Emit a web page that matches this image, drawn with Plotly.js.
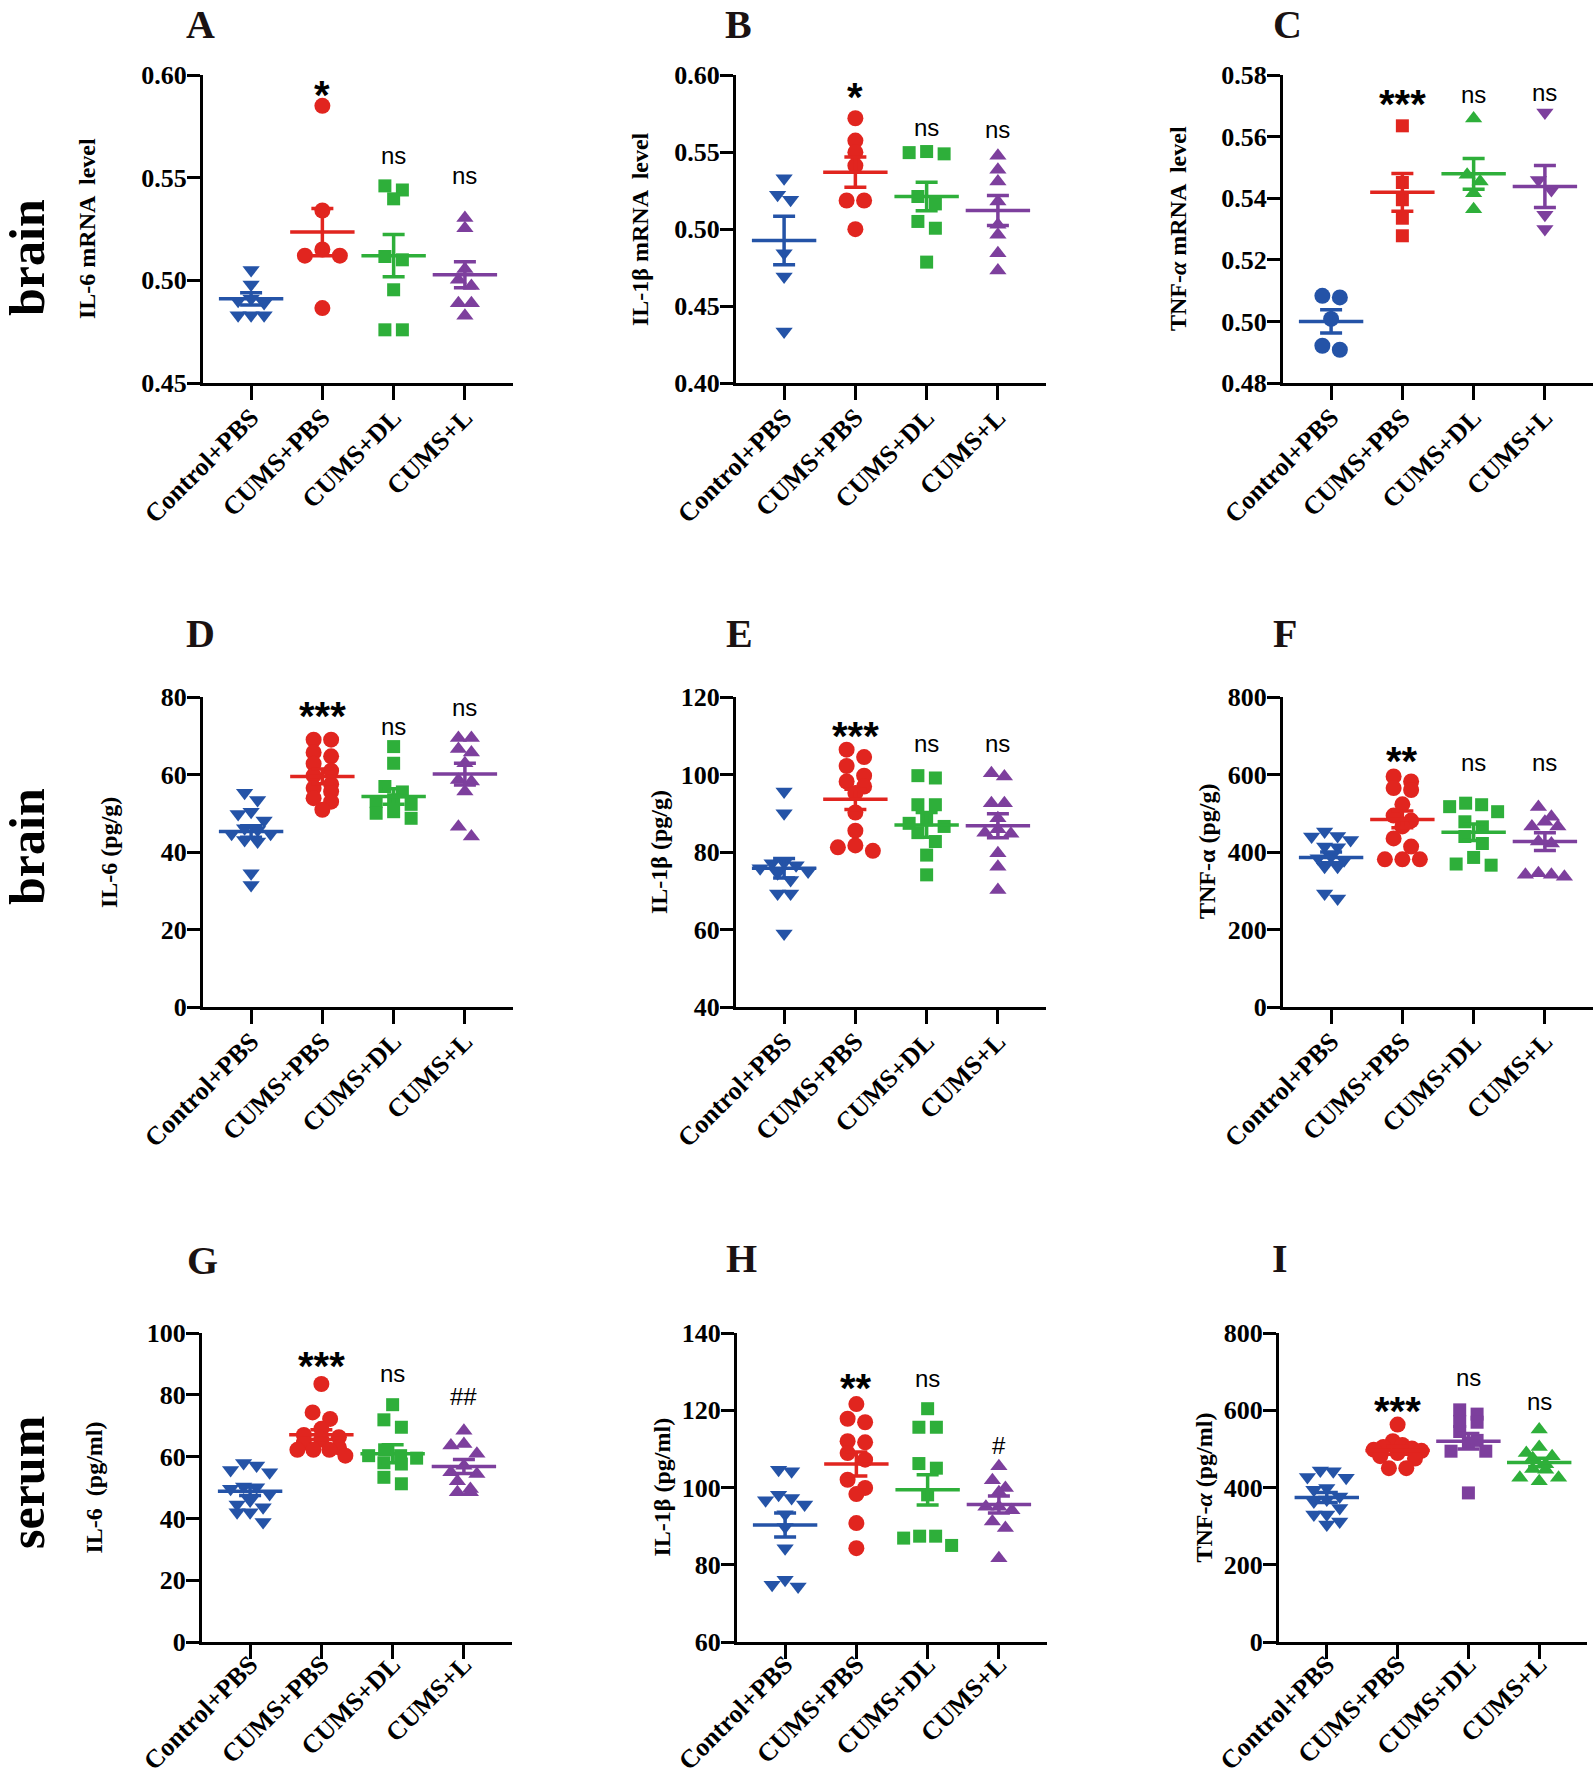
<!DOCTYPE html>
<html><head><meta charset="utf-8">
<script src="https://cdn.plot.ly/plotly-3.0.1.min.js"></script>
<style>body{margin:0;background:#fff}#chart{width:1594px;height:1780px}</style>
</head><body><div id="chart"></div>
<script>
const categories = ["Control+PBS", "CUMS+PBS", "CUMS+DL", "CUMS+L"];

// Panel A: IL-6 mRNA (brain)
const A_ctrl = [0.505, 0.498, 0.491, 0.490, 0.489, 0.483, 0.483, 0.483];
const A_cums = [0.585, 0.534, 0.515, 0.512, 0.512, 0.4865];
const A_dl   = [0.546, 0.544, 0.5397, 0.5116, 0.510, 0.4954, 0.4759, 0.4759];
const A_l    = [0.5303, 0.5254, 0.5055, 0.5003, 0.4973, 0.4889, 0.4889, 0.4828];
const A_mean = [0.491, 0.5235, 0.512, 0.5027];
const A_sem  = [0.003, 0.0115, 0.0103, 0.0063];
const A_sig  = ["", "*", "ns", "ns"];

// Panel B: IL-1β mRNA (brain)
const B_ctrl = [0.533, 0.5222, 0.519, 0.4843, 0.4692, 0.4335];
const B_cums = [0.5719, 0.5574, 0.5498, 0.5412, 0.5185, 0.5185, 0.4999];
const B_dl   = [0.5503, 0.5496, 0.5488, 0.5211, 0.5163, 0.5049, 0.5005, 0.4785];
const B_l    = [0.5475, 0.5384, 0.5308, 0.5178, 0.5027, 0.4962, 0.4843, 0.4731];
const B_mean = [0.4925, 0.5369, 0.5211, 0.512];
const B_sem  = [0.0157, 0.0098, 0.0092, 0.0097];
const B_sig  = ["", "*", "ns", "ns"];

// Panel C: TNF-α mRNA (brain)
const C_ctrl = [0.5083, 0.5078, 0.5008, 0.4921, 0.4908];
const C_cums = [0.5635, 0.5451, 0.5395, 0.5335, 0.5278];
const C_dl   = [0.5659, 0.5476, 0.5454, 0.5416, 0.5364];
const C_l    = [0.5678, 0.5459, 0.5427, 0.5346, 0.530];
const C_mean = [0.500, 0.5419, 0.5479, 0.5438];
const C_sem  = [0.0038, 0.0061, 0.005, 0.0068];
const C_sig  = ["", "***", "ns", "ns"];

// Panel D: IL-6 pg/g (brain)
const D_ctrl = [55.3, 53.4, 50.4, 49.8, 48.1, 46.1, 45.7, 44.7, 44.7, 43.1, 42.7, 34.5, 31.5];
const D_cums = [69.0, 69.0, 65.7, 64.7, 62.8, 61.0, 59.7, 57.5, 56.5, 55.6, 53.9, 53.0, 50.9];
const D_dl   = [67.2, 62.9, 56.9, 55.5, 53.5, 53.0, 52.3, 50.4, 50.0, 48.7];
const D_l    = [69.4, 69.4, 66.6, 65.7, 62.9, 58.6, 58.2, 55.6, 46.5, 44.0];
const D_mean = [45.3, 59.5, 54.3, 60.1];
const D_sem  = [1.5, 1.9, 2.0, 2.8];
const D_sig  = ["", "***", "ns", "ns"];

// Panel E: IL-1β pg/g (brain)
const E_ctrl = [95.6, 90.0, 77.2, 77.1, 76.6, 75.8, 75.0, 74.5, 72.8, 69.3, 69.3, 59.0];
const E_cums = [106.4, 104.5, 102.2, 99.7, 98.2, 96.9, 95.2, 90.2, 85.5, 81.7, 81.2, 80.3];
const E_dl   = [99.7, 99.1, 92.2, 92.2, 88.3, 87.4, 86.6, 85.0, 82.7, 79.2, 74.1];
const E_l    = [100.3, 99.5, 92.6, 92.6, 88.7, 85.9, 85.0, 84.7, 79.7, 76.2, 70.2];
const E_mean = [75.8, 93.6, 87.0, 86.8];
const E_sem  = [2.5, 2.6, 3.2, 3.1];
const E_sig  = ["", "***", "ns", "ns"];

// Panel F: TNF-α pg/g (brain)
const F_ctrl = [453, 441, 440, 431, 414, 412, 388, 384, 379, 362, 362, 293, 280];
const F_cums = [595, 582, 565, 560, 523, 494, 481, 466, 435, 414, 381, 381, 381];
const F_dl   = [526, 522, 517, 504, 478, 465, 440, 422, 386, 369, 366];
const F_l    = [516, 491, 478, 466, 466, 427, 422, 345, 341, 341, 336];
const F_mean = [386, 484, 451, 427];
const F_sem  = [14, 21.5, 21.5, 23];
const F_sig  = ["", "**", "ns", "ns"];

// Panel G: IL-6 pg/ml (serum)
const G_ctrl = [57.9, 57.1, 55.7, 54.9, 50.3, 50.1, 49.6, 47.9, 45.8, 44.5, 43.6, 42.0, 42.0, 38.8];
const G_cums = [83.5, 74.3, 72.2, 69.0, 67.0, 66.3, 65.5, 64.5, 63.0, 62.2, 62.2, 62.2, 60.3];
const G_dl   = [76.8, 71.9, 69.5, 62.2, 60.3, 60.3, 59.5, 58.0, 57.6, 53.3, 51.2];
const G_l    = [68.4, 64.1, 63.6, 60.9, 57.0, 54.9, 54.4, 52.0, 49.5, 48.5, 48.5];
const G_mean = [48.8, 67.1, 60.9, 56.8];
const G_sem  = [1.35, 1.6, 2.9, 2.3];
const G_sig  = ["", "***", "ns", "##"];

// Panel H: IL-1β pg/ml (serum)
const H_ctrl = [104.6, 104.2, 98.1, 97.3, 96.7, 95.6, 93.1, 89.8, 84.3, 76.1, 74.8, 74.4];
const H_cums = [121.6, 117.8, 116.9, 112.0, 111.7, 108.9, 107.2, 102.0, 99.9, 98.3, 90.8, 84.3];
const H_dl   = [120.4, 115.6, 115.6, 106.2, 105.0, 98.1, 87.4, 87.4, 86.9, 85.0];
const H_l    = [105.5, 101.9, 99.9, 98.8, 95.0, 95.0, 94.1, 91.2, 89.5, 81.7];
const H_mean = [90.3, 106.1, 99.4, 95.6];
const H_sem  = [3.1, 3.1, 3.9, 2.2];
const H_sig  = ["", "**", "ns", "#"];

// Panel I: TNF-α pg/ml (serum)
const I_ctrl = [444, 442, 427, 425, 399, 394, 377, 369, 364, 347, 330, 330, 312, 304];
const I_cums = [563, 520, 510, 505, 501, 498, 495, 489, 481, 475, 450, 450];
const I_dl   = [601, 590, 571, 569, 545, 522, 515, 494, 494, 386];
const I_l    = [550, 505, 489, 481, 476, 460, 448, 446, 425, 425, 416];
const I_mean = [374, 496, 520, 465];
const I_sem  = [13, 10, 20, 11];
const I_sig  = ["", "***", "ns", "ns"];

// ---------- styling / layout ----------
const W = 1594, HT = 1780;
const BLUE = '#2453A7', RED = '#E1251F', GREEN = '#2EAF3A', PURPLE = '#7D3F9D';
const SERIF = 'Liberation Serif, Times New Roman, serif';
const SANS = 'Liberation Sans, Arial, sans-serif';
const SIZE = {'triangle-down': 15, 'triangle-up': 15, 'circle': 16, 'square': 13};
const SYM1 = ['triangle-down', 'circle', 'square', 'triangle-up'];
const COL1 = [BLUE, RED, GREEN, PURPLE];
const CAT_PX = 71.3;

const panels = [
  {L:'A', g:[A_ctrl,A_cums,A_dl,A_l], m:A_mean, s:A_sem, sig:A_sig, sigY:[null,0.594,0.561,0.5513],
   box:{l:203,t:75,w:310,h:308}, range:[0.45,0.60], dtick:0.05, fmt:'.2f', sym:SYM1, col:COL1,
   title:'IL-6 mRNA  level', tx:87, letter:[201,17], xstand:-8},
  {L:'B', g:[B_ctrl,B_cums,B_dl,B_l], m:B_mean, s:B_sem, sig:B_sig, sigY:[null,0.591,0.5656,0.5643],
   box:{l:736,t:75,w:310,h:308}, range:[0.40,0.60], dtick:0.05, fmt:'.2f', sym:SYM1, col:COL1,
   title:'IL-1β mRNA  level', tx:640, letter:[738,17], xstand:-8},
  {L:'C', g:[C_ctrl,C_cums,C_dl,C_l], m:C_mean, s:C_sem, sig:C_sig, sigY:[null,0.5732,0.5738,0.5742],
   box:{l:1283,t:75,w:310,h:308}, range:[0.48,0.58], dtick:0.02, fmt:'.2f',
   sym:['circle','square','triangle-up','triangle-down'], col:COL1,
   title:'TNF-<i>α</i> mRNA  level', tx:1178, letter:[1287,17], xstand:-8},
  {L:'D', g:[D_ctrl,D_cums,D_dl,D_l], m:D_mean, s:D_sem, sig:D_sig, sigY:[null,77.2,72.5,77.4],
   box:{l:203,t:697,w:310,h:310}, range:[0,80], dtick:20, fmt:'d', sym:SYM1, col:COL1,
   title:'IL-6 (pg/g)', tx:109, letter:[201,634], xstand:-8},
  {L:'E', g:[E_ctrl,E_cums,E_dl,E_l], m:E_mean, s:E_sem, sig:E_sig, sigY:[null,112,108.1,108.1],
   box:{l:736,t:697,w:310,h:310}, range:[40,120], dtick:20, fmt:'d', sym:SYM1, col:COL1,
   title:'IL-1β (pg/g)', tx:659, letter:[739,634], xstand:-8},
  {L:'F', g:[F_ctrl,F_cums,F_dl,F_l], m:F_mean, s:F_sem, sig:F_sig, sigY:[null,655,630,630],
   box:{l:1283,t:697,w:310,h:310}, range:[0,800], dtick:200, fmt:'d', sym:SYM1, col:COL1,
   title:'TNF-α (pg/g)', tx:1207, letter:[1285,634], xstand:-8},
  {L:'G', g:[G_ctrl,G_cums,G_dl,G_l], m:G_mean, s:G_sem, sig:G_sig, sigY:[null,91.9,86.8,79.4],
   box:{l:202,t:1333,w:310,h:309}, range:[0,100], dtick:20, fmt:'d', sym:SYM1, col:COL1,
   title:'IL-6  (pg/ml)', tx:93, letter:[202,1260], xstand:-20},
  {L:'H', g:[H_ctrl,H_cums,H_dl,H_l], m:H_mean, s:H_sem, sig:H_sig, sigY:[null,127.8,128.3,110.8],
   box:{l:737,t:1333,w:310,h:309}, range:[60,140], dtick:20, fmt:'d', sym:SYM1, col:COL1,
   title:'IL-1β (pg/ml)', tx:661, letter:[741,1258], xstand:-20},
  {L:'I', g:[I_ctrl,I_cums,I_dl,I_l], m:I_mean, s:I_sem, sig:I_sig, sigY:[null,619,686,622],
   box:{l:1279,t:1333,w:308,h:309}, range:[0,800], dtick:200, fmt:'d', sym:SYM1,
   col:[BLUE, RED, PURPLE, GREEN],
   title:'TNF-<i>α</i> (pg/ml)', tx:1203, letter:[1280,1258], xstand:-20}
];

const rowLabels = [['brain', 258], ['brain', 847], ['serum', 1483]];

function fx(p) { return p / W; }
function fy(p) { return 1 - p / HT; }

// Prism-like scatter arrangement: points of similar value share a row, centred on the category
function swarm(vals, pxPerY, colPx, thrPx, maxHalf) {
  const idx = vals.map((v, i) => i).sort((a, b) => vals[b] - vals[a]);
  const rows = [];
  let cur = null;
  idx.forEach(i => {
    const yp = vals[i] * pxPerY;
    if (cur && (cur.y0 - yp) < thrPx) cur.items.push(i);
    else { cur = {y0: yp, items: [i]}; rows.push(cur); }
  });
  const off = new Array(vals.length).fill(0);
  rows.forEach(r => {
    const n = r.items.length;
    const slots = [];
    for (let k = 0; k < n; k++) slots.push(k);
    const c = (n - 1) / 2;
    slots.sort((a, b) => Math.abs(a - c) - Math.abs(b - c) || a - b);
    const step = n > 1 ? Math.min(colPx, 2 * maxHalf / (n - 1)) : 0;
    r.items.forEach((i, k) => { off[i] = (slots[k] - c) * step / CAT_PX; });
  });
  return off;
}

const traces = [];
const annotations = [];
const layout = {
  width: W, height: HT, margin: {l: 0, r: 0, t: 0, b: 0},
  paper_bgcolor: '#fff', plot_bgcolor: '#fff', showlegend: false,
  font: {family: SERIF, color: '#000'}
};

panels.forEach((p, pi) => {
  const n = pi === 0 ? '' : String(pi + 1);
  const xr = 'x' + n, yr = 'y' + n;
  const b = p.box;
  layout['xaxis' + n] = {
    domain: [fx(b.l), fx(b.l + b.w)], anchor: yr,
    range: [-0.675, 3.675], tickmode: 'array', tickvals: [0, 1, 2, 3], ticktext: categories,
    tickangle: -45, ticks: 'outside', ticklen: 14, tickwidth: 3, tickcolor: '#000',
    ticklabelstandoff: p.xstand,
    showline: true, linewidth: 3, linecolor: '#000', showgrid: false, zeroline: false,
    tickfont: {family: SERIF, size: 26, weight: 'bold', color: '#000'}, fixedrange: true
  };
  layout['yaxis' + n] = {
    domain: [fy(b.t + b.h), fy(b.t)], anchor: xr,
    range: p.range, dtick: p.dtick, tick0: p.range[0], tickformat: p.fmt,
    ticks: 'outside', ticklen: 13, tickwidth: 3, tickcolor: '#000',
    ticklabelstandoff: -5,
    showline: true, linewidth: 3, linecolor: '#000', showgrid: false, zeroline: false,
    tickfont: {family: SERIF, size: 26, weight: 'bold', color: '#000'}, fixedrange: true
  };
  const pxPerY = b.h / (p.range[1] - p.range[0]);
  p.g.forEach((vals, gi) => {
    const sym = p.sym[gi], col = p.col[gi];
    const tri = sym.indexOf('triangle') === 0;
    const off = swarm(vals, pxPerY, tri ? 13 : 17.5, 10, 24);
    traces.push({
      type: 'scatter', mode: 'markers', xaxis: xr, yaxis: yr,
      x: vals.map((v, i) => gi + off[i]), y: vals,
      marker: {symbol: sym, size: SIZE[sym], color: col, line: {width: 0}},
      cliponaxis: false, hoverinfo: 'skip'
    });
    traces.push({
      type: 'scatter', mode: 'markers', xaxis: xr, yaxis: yr,
      x: [gi], y: [p.m[gi]],
      marker: {symbol: 'line-ew', size: 46, color: col, line: {color: col, width: 3.5}},
      error_y: {type: 'data', array: [p.s[gi]], visible: true, color: col, thickness: 3.5, width: 11},
      cliponaxis: false, hoverinfo: 'skip'
    });
    if (p.sig[gi]) {
      const star = p.sig[gi].indexOf('*') >= 0;
      annotations.push({
        xref: xr, yref: yr, x: gi, y: p.sigY[gi], text: p.sig[gi], showarrow: false,
        xanchor: 'center', yanchor: 'middle', yshift: star ? -8 : 0,
        font: star ? {family: SANS, size: 40, weight: 'bold', color: '#000'}
                   : {family: SANS, size: 24, color: '#000'}
      });
    }
  });
  annotations.push({
    xref: 'paper', yref: 'paper', x: fx(p.tx), y: fy(b.t + b.h / 2), text: p.title,
    textangle: -90, showarrow: false, xanchor: 'center', yanchor: 'middle',
    font: {family: SERIF, size: 24, weight: 'bold', color: '#000'}
  });
  const topRow = p.letter[1] < 40;
  annotations.push({
    xref: 'paper', yref: 'paper', x: fx(p.letter[0]), y: topRow ? 1 : fy(p.letter[1]), text: p.L,
    showarrow: false, xanchor: 'center', yanchor: topRow ? 'top' : 'middle',
    font: {family: SERIF, size: 40, weight: 'bold', color: '#1a1212'}
  });
});

rowLabels.forEach(r => {
  annotations.push({
    xref: 'paper', yref: 'paper', x: fx(27), y: fy(r[1]), text: r[0], textangle: -90,
    showarrow: false, xanchor: 'center', yanchor: 'middle',
    font: {family: SERIF, size: 50, weight: 'bold', color: '#000'}
  });
});

layout.annotations = annotations;
Plotly.newPlot('chart', traces, layout, {staticPlot: true, displayModeBar: false});
</script>
</body></html>
